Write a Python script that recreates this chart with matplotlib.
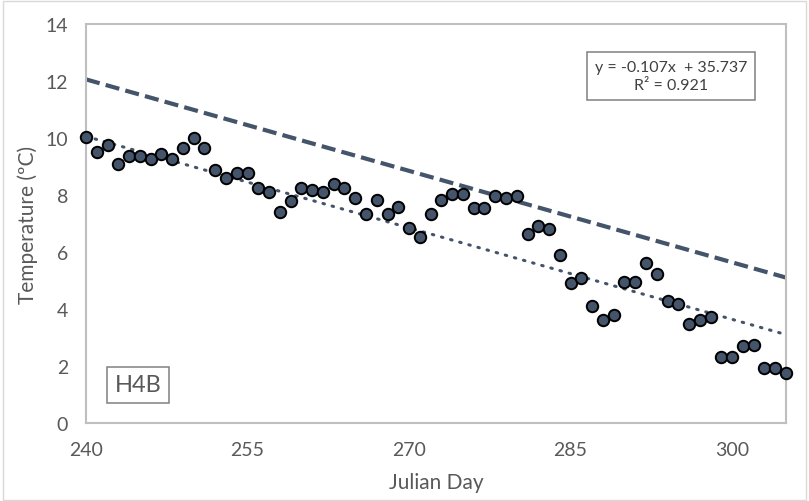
import numpy as np
import matplotlib
matplotlib.use("Agg")
import matplotlib.pyplot as plt
from matplotlib.patches import Rectangle

plt.rcParams['font.family'] = ['Lato', 'DejaVu Sans']

julian_day = list(range(240, 306))
temperature = [10.03, 9.52, 9.77, 9.10, 9.37, 9.37, 9.26, 9.43, 9.28, 9.65,
               9.99, 9.65, 8.86, 8.58, 8.77, 8.77, 8.25, 8.12, 7.40, 7.78,
               8.25, 8.17, 8.12, 8.39, 8.25, 7.88, 7.35, 7.83, 7.35, 7.58,
               6.84, 6.51, 7.35, 7.83, 8.05, 8.05, 7.54, 7.54, 7.96, 7.91,
               7.96, 6.64, 6.92, 6.79, 5.89, 4.90, 5.09, 4.10, 3.63, 3.78,
               4.95, 4.95, 5.61, 5.23, 4.29, 4.19, 3.49, 3.63, 3.73, 2.31,
               2.31, 2.70, 2.74, 1.94, 1.94, 1.75]
trend_slope = -0.107
trend_intercept = 35.737
r_squared = 0.921
upper_offset = 2.0
x_ticks = [240, 255, 270, 285, 300]
y_ticks = [0, 2, 4, 6, 8, 10, 12, 14]
site_label = "H4B"

W, H = 809, 502
fig = plt.figure(figsize=(W / 100, H / 100), dpi=100)
ax = fig.add_axes([86 / W, (H - 424) / H, (786 - 86) / W, (424 - 25) / H])

navy = '#44546A'
grey_txt = '#595959'

xl = np.array([240, 305])
trend = trend_slope * xl + trend_intercept
ax.plot(xl, trend + upper_offset, color=navy, lw=3.0, dashes=(3.4, 1.5), zorder=2)
ax.plot(xl, trend, color=navy, lw=2.2, linestyle=(0, (0.5, 2.6)),
        dash_capstyle='round', zorder=2)
ax.scatter(julian_day, temperature, s=68, facecolor=navy, edgecolor='black',
           linewidth=1.4, zorder=3, clip_on=False)

ax.set_xlim(240, 305)
ax.set_ylim(0, 14)
ax.set_xticks(x_ticks)
ax.set_yticks(y_ticks)
ax.tick_params(length=0, labelsize=14, colors=grey_txt)
ax.tick_params(axis='x', pad=13)
ax.tick_params(axis='y', pad=13)
for s in ax.spines.values():
    s.set_color('#BFBFBF')
    s.set_linewidth(1.5)

ax.set_xlabel('Julian Day', fontsize=15, color=grey_txt)
ax.xaxis.set_label_coords(0.5, -59 / 399)
ax.set_ylabel('Temperature (ºC)', fontsize=15, color=grey_txt)
ax.yaxis.set_label_coords(-58 / 700, 0.5)
ax.yaxis.label.set_va('center')
ax.xaxis.label.set_va('center')

eq = f"y = {trend_slope}x  + {trend_intercept}\nR² = {r_squared}"
fig.text(671 / W, 1 - 77 / H, eq, ha='center', va='center', fontsize=11.5,
         color='#404040', linespacing=1.3,
         bbox=dict(boxstyle='square,pad=0.5', fc='white', ec='#808080', lw=1.1))

fig.text(138 / W, 1 - 386 / H, site_label, ha='center', va='center', fontsize=17,
         color='#595959',
         bbox=dict(boxstyle='square,pad=0.32', fc='white', ec='#808080', lw=1.1))

fig.patches.append(Rectangle((3 / W, 1 / H), (W - 6) / W, (H - 3) / H,
                             transform=fig.transFigure, fill=False,
                             ec='#D9D9D9', lw=1))

fig.savefig('out.png', dpi=100)
